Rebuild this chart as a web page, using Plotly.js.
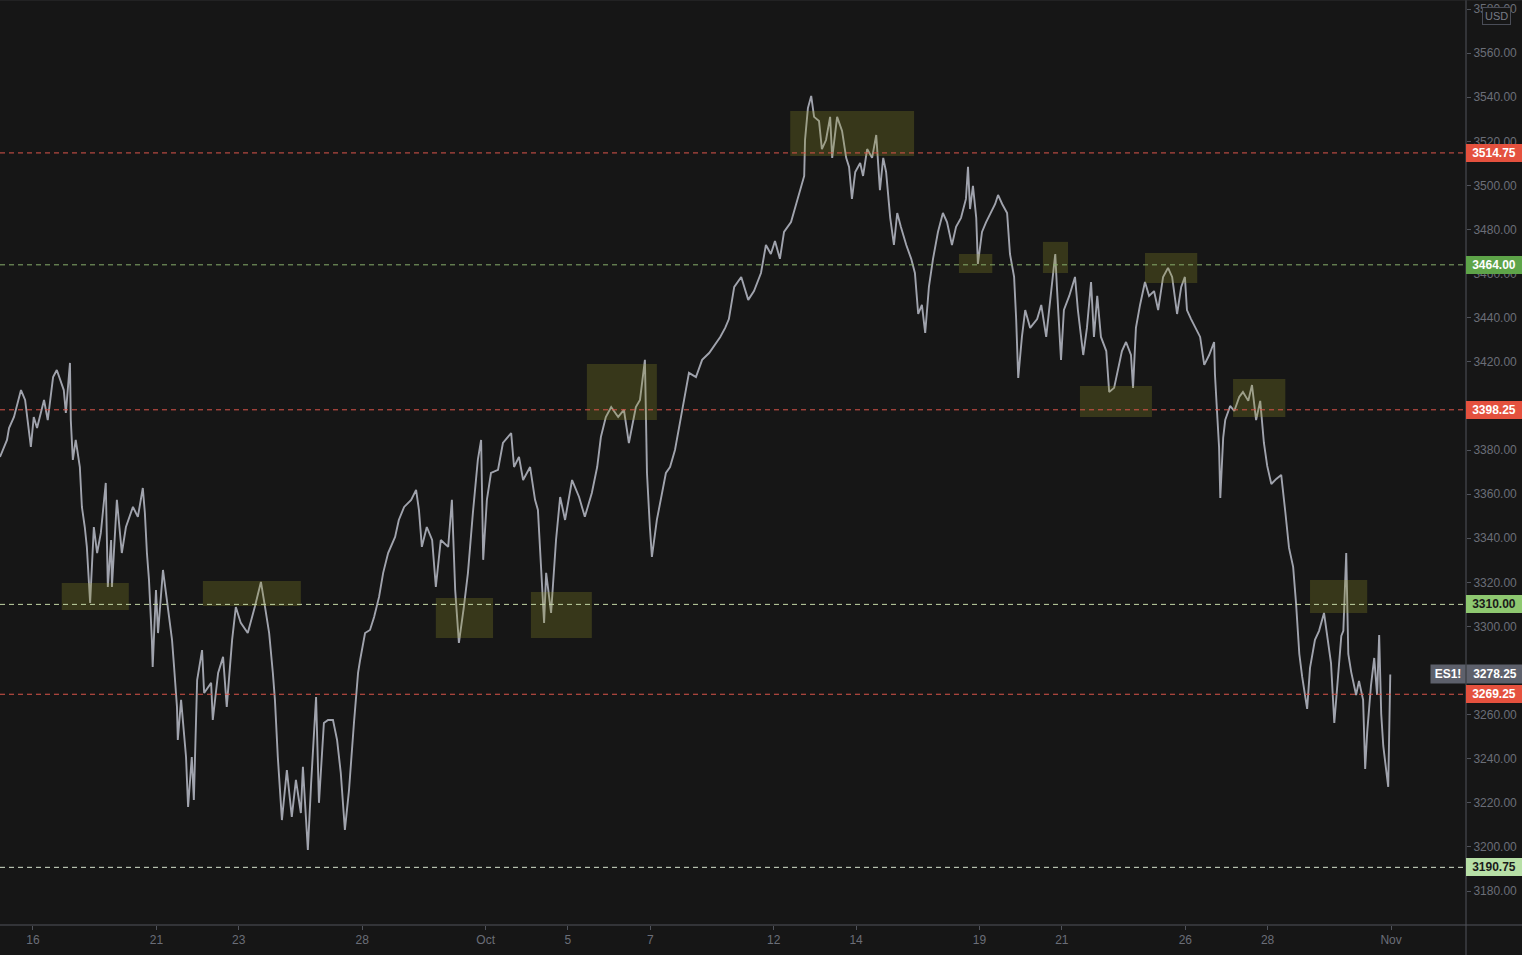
<!DOCTYPE html>
<html>
<head>
<meta charset="utf-8">
<script src="https://cdn.plot.ly/plotly-3.0.1.min.js"></script>
<style>
  html, body { margin: 0; padding: 0; background: #161616; }
  #chart { width: 1522px; height: 955px; }
</style>
</head>
<body>
<div id="chart"></div>
<script>
// ---- DATA ----
// x = trading-session index (0 = Sep 16), y = ES1! price
const tradingDay = [
-0.80,-0.63,-0.58,-0.46,-0.29,-0.19,-0.05,0.02,0.10,0.27,
0.36,0.49,0.58,0.75,0.80,0.90,0.92,0.97,1.04,1.14,
1.19,1.26,1.31,1.39,1.48,1.56,1.65,1.77,1.82,1.90,
1.92,2.04,2.16,2.26,2.43,2.55,2.67,2.72,2.77,2.82,
2.89,2.91,2.99,3.04,3.16,3.28,3.38,3.43,3.50,3.52,
3.60,3.72,3.77,3.86,3.91,3.99,4.11,4.16,4.33,4.37,
4.50,4.62,4.71,4.84,4.93,5.05,5.22,5.39,5.54,5.64,
5.74,5.83,5.88,5.95,6.00,6.05,6.17,6.29,6.39,6.51,
6.56,6.68,6.76,6.88,6.95,7.07,7.17,7.29,7.39,7.48,
7.58,7.68,7.80,7.90,7.95,8.07,8.19,8.29,8.41,8.51,
8.63,8.80,8.89,9.02,9.19,9.31,9.38,9.45,9.57,9.70,
9.79,9.91,10.09,10.18,10.26,10.35,10.47,10.57,10.69,10.81,
10.89,10.94,11.03,11.13,11.30,11.42,11.62,11.69,11.81,11.91,
12.08,12.20,12.27,12.37,12.42,12.47,12.59,12.71,12.81,12.93,
13.10,13.27,13.41,13.58,13.71,13.80,13.92,14.05,14.22,14.36,
14.48,14.65,14.75,14.87,14.92,14.99,15.04,15.16,15.26,15.38,
15.48,15.60,15.72,15.82,15.94,16.11,16.26,16.43,16.60,
16.70,16.82,16.91,17.04,17.21,17.38,17.52,17.69,17.81,17.93,
18.03,18.15,18.25,18.42,18.54,18.64,18.74,18.76,18.83,18.91,
18.98,19.10,19.17,19.27,19.37,19.42,19.54,19.66,19.76,19.83,
19.90,19.98,20.10,20.17,20.27,20.39,20.49,20.58,20.66,20.73,
20.83,20.92,21.00,21.09,21.22,21.34,21.43,21.51,21.60,21.68,
21.77,21.87,21.99,22.11,22.21,22.33,22.43,22.55,22.67,22.72,
22.77,22.84,22.92,22.96,23.06,23.16,23.28,23.38,23.45,23.55,
23.67,23.74,23.84,23.89,23.94,24.03,24.11,24.23,24.40,24.50,
24.62,24.74,24.84,24.88,24.98,25.05,25.18,25.32,25.39,25.52,
25.61,25.71,25.78,25.86,25.95,26.08,26.15,26.27,26.34,26.46,
26.56,26.68,26.73,26.80,26.90,27.02,27.12,27.24,27.34,27.46,
27.58,27.68,27.80,27.90,27.99,28.04,28.14,28.24,28.36,28.46,
28.58,28.70,28.72,28.77,28.82,28.85,28.92,28.97,29.09,29.19,
29.31,29.40,29.53,29.62,29.72,29.82,29.91,29.99,30.09,30.21,
30.33,30.43,30.52,30.62,30.69,30.77,30.84,30.96,31.03,31.15,
31.25,31.37,31.45,31.54,31.62,31.71,31.79,31.84,31.91,31.96,
32.03,32.15,32.22,32.32,32.37,32.42,32.51,32.59,32.66,32.71,
32.76,32.81,32.88,32.93,32.98
];
const esPrice = [
3376.9,3384.6,3390.0,3395.0,3407.2,3402.7,3381.4,3395.0,3390.0,3402.7,
3393.6,3413.1,3416.3,3407.2,3396.8,3419.5,3393.6,3375.5,3384.6,3372.3,
3354.2,3345.1,3336.1,3310.7,3345.1,3333.3,3342.4,3365.1,3317.9,3339.2,
3317.9,3357.4,3333.3,3345.1,3354.2,3349.7,3362.8,3351.5,3333.3,3321.1,
3293.9,3281.6,3316.5,3297.0,3325.6,3308.8,3293.9,3281.6,3263.5,3248.5,
3266.7,3240.8,3218.1,3240.8,3221.3,3275.7,3289.3,3269.8,3274.4,3257.6,
3278.9,3286.2,3263.5,3293.9,3308.8,3301.6,3297.0,3308.8,3320.2,3308.8,
3297.0,3278.9,3266.7,3240.8,3225.8,3212.2,3234.9,3213.6,3230.4,3215.4,
3236.3,3198.6,3229.0,3268.0,3220.0,3256.2,3257.6,3257.6,3248.5,3233.6,
3207.7,3225.8,3256.2,3278.9,3284.8,3297.0,3298.4,3304.3,3313.4,3324.3,
3333.3,3340.6,3348.3,3354.2,3357.4,3361.9,3352.8,3336.1,3345.1,3339.2,
3317.9,3339.2,3336.1,3357.4,3316.5,3292.5,3308.8,3324.3,3351.5,3375.5,
3384.6,3330.2,3357.4,3369.6,3371.0,3383.2,3387.7,3372.3,3376.9,3366.4,
3372.3,3357.4,3352.8,3321.1,3301.6,3324.3,3306.1,3339.2,3358.7,3348.3,
3366.4,3358.7,3349.7,3360.5,3372.3,3385.9,3395.0,3399.5,3395.0,3398.2,
3383.2,3399.5,3402.7,3420.9,3369.6,3345.1,3331.5,3348.3,3357.4,3369.6,
3372.3,3380.0,3392.3,3402.7,3415.0,3413.1,3420.9,3424.0,3428.6,
3431.3,3435.4,3439.4,3454.0,3458.5,3448.1,3452.1,3460.3,3473.0,3468.9,
3474.8,3466.7,3478.9,3483.4,3491.6,3497.9,3504.3,3520.6,3535.1,3540.6,
3531.1,3529.2,3516.5,3520.6,3531.1,3512.5,3531.1,3524.7,3512.5,3508.4,
3493.9,3506.1,3510.2,3504.3,3516.5,3512.5,3522.9,3497.9,3512.5,3506.1,
3485.3,3473.0,3487.5,3481.2,3473.0,3466.7,3460.3,3441.7,3445.8,3433.1,
3454.0,3466.7,3478.9,3487.5,3483.4,3473.0,3481.2,3485.3,3493.9,3508.4,
3489.3,3499.8,3485.3,3464.4,3478.9,3483.4,3487.5,3491.6,3495.7,3491.6,
3487.5,3468.9,3458.5,3439.4,3412.7,3431.3,3443.5,3435.4,3439.4,3445.8,
3431.3,3452.1,3468.9,3454.0,3420.9,3443.5,3449.9,3458.5,3443.5,3423.1,
3435.4,3456.2,3431.3,3449.9,3431.3,3424.9,3406.3,3408.2,3414.5,3424.9,
3429.0,3423.1,3408.2,3435.4,3445.8,3456.2,3449.9,3452.1,3443.5,3458.5,
3462.6,3458.5,3441.7,3454.0,3458.5,3443.5,3439.4,3435.4,3431.3,3418.6,
3423.1,3429.0,3414.5,3397.7,3381.4,3358.3,3385.5,3393.6,3400.0,3397.7,
3404.1,3406.3,3402.3,3409.5,3393.6,3402.3,3383.2,3372.8,3364.6,3366.9,
3368.7,3351.9,3335.6,3327.0,3310.7,3287.5,3277.1,3262.6,3281.2,3293.9,
3298.0,3306.1,3295.7,3283.4,3256.2,3277.1,3295.7,3298.0,3333.3,3287.5,
3279.4,3268.9,3275.3,3266.7,3235.4,3252.2,3273.0,3285.7,3268.9,3296.1,
3260.3,3245.8,3233.6,3227.2,3278.25
];

// x-axis tick labels (session index -> label)
const dayTickVals = [0, 3, 5, 8, 11, 13, 15, 18, 20, 23, 25, 28, 30, 33];
const dayTickText = ['16', '21', '23', '28', 'Oct', '5', '7', '12', '14', '19', '21', '26', '28', 'Nov'];

// price axis ticks (3280 and 3400 sit fully under the price tags in the original)
const priceTicks = [3180,3200,3220,3240,3260,3300,3320,3340,3360,3380,3420,3440,3460,3480,3500,3520,3540,3560,3580];

// horizontal levels
const levelPrices = [3514.75, 3464.00, 3398.25, 3310.00, 3269.25, 3190.75];
const levelKinds  = ['red', 'green', 'red', 'lightgreen', 'red', 'palegreen'];

// zones (session index range, price range)
const zoneX0 = [0.70, 4.13, 9.79, 12.10, 13.46, 18.40, 22.50, 24.54, 27.02, 25.44, 29.16, 31.03];
const zoneX1 = [2.33, 6.51, 11.18, 13.58, 15.16, 21.41, 23.31, 25.15, 28.29, 27.19, 30.43, 32.42];
const zoneY0 = [3307.5, 3309.3, 3294.8, 3294.8, 3393.6, 3513.4, 3460.3, 3460.3, 3455.8, 3395.0, 3395.0, 3306.1];
const zoneY1 = [3319.7, 3320.6, 3312.9, 3315.6, 3419.0, 3533.8, 3468.9, 3474.4, 3469.4, 3409.1, 3412.2, 3321.1];

const lastPrice = 3278.25;
const symbolName = 'ES1!';

// ---- STYLE ----
const BG = '#161616';
const kindStyle = {
  red:        { line: '#d9544a', bg: '#e4513e', text: '#ffffff' },
  green:      { line: '#86ad6b', bg: '#5ea449', text: '#ffffff' },
  lightgreen: { line: '#c3d6a6', bg: '#8ec870', text: '#1a1a1a' },
  palegreen:  { line: '#d6e2cc', bg: '#b7dfa6', text: '#1a1a1a' }
};
const FONT = 'Liberation Sans, Arial, sans-serif';

const shapes = [];
for (let i = 0; i < zoneX0.length; i++) {
  shapes.push({
    type: 'rect', xref: 'x', yref: 'y', layer: 'above',
    x0: zoneX0[i], x1: zoneX1[i], y0: zoneY0[i], y1: zoneY1[i],
    fillcolor: 'rgba(150,150,40,0.26)', line: { width: 0 }
  });
}
levelPrices.forEach((p, i) => {
  shapes.push({
    type: 'line', xref: 'paper', yref: 'y', layer: 'above',
    x0: 0, x1: 1, y0: p, y1: p,
    line: { color: kindStyle[levelKinds[i]].line, width: 1, dash: '5px,4px' }
  });
});
shapes.push({ type: 'line', xref: 'paper', yref: 'paper', x0: 1, x1: 1, y0: -30/925, y1: 1,
  line: { color: '#50535b', width: 1 }, layer: 'above' });
shapes.push({ type: 'line', xref: 'paper', yref: 'paper', x0: 0, x1: 1522/1466, y0: 0, y1: 0,
  line: { color: '#50535b', width: 1 }, layer: 'above' });
shapes.push({ type: 'line', xref: 'paper', yref: 'paper', x0: 0, x1: 1522/1466, y0: 1, y1: 1,
  line: { color: '#2e2e30', width: 1 }, layer: 'above' });

const annotations = [];
levelPrices.forEach((p, i) => {
  const s = kindStyle[levelKinds[i]];
  annotations.push({
    xref: 'paper', yref: 'y', x: 1, y: p, xanchor: 'left', yanchor: 'middle',
    text: p.toFixed(2), showarrow: false, width: 52, align: 'center',
    bgcolor: s.bg, borderpad: 2, borderwidth: 0,
    font: { family: FONT, size: 12, color: s.text, weight: 'bold' }
  });
});
annotations.push({
  xref: 'paper', yref: 'y', x: 1, y: lastPrice, xanchor: 'left', yanchor: 'middle',
  text: lastPrice.toFixed(2), showarrow: false, width: 52, align: 'center',
  bgcolor: '#5d606b', borderpad: 2,
  font: { family: FONT, size: 12, color: '#ffffff', weight: 'bold' }
});
annotations.push({
  xref: 'paper', yref: 'y', x: 1, y: lastPrice, xanchor: 'right', yanchor: 'middle',
  text: symbolName, showarrow: false, width: 30, align: 'center',
  bgcolor: '#5d606b', borderpad: 2,
  font: { family: FONT, size: 12, color: '#ffffff', weight: 'bold' }
});
annotations.push({
  xref: 'paper', yref: 'paper', x: 1496/1466, y: 1 - 16/925, xanchor: 'center', yanchor: 'middle',
  text: 'USD', showarrow: false, bgcolor: BG, bordercolor: '#4a4d57', borderwidth: 1, borderpad: 2,
  font: { family: FONT, size: 11, color: '#787b86' }
});

const trace = {
  type: 'scatter', mode: 'lines',
  x: tradingDay, y: esPrice,
  line: { color: '#a0a3ad', width: 1.9 },
  hoverinfo: 'skip'
};

const layout = {
  width: 1522, height: 955,
  paper_bgcolor: BG, plot_bgcolor: BG,
  margin: { l: 0, r: 56, t: 0, b: 30, pad: 0 },
  showlegend: false,
  xaxis: {
    range: [-0.80, 34.82], tickmode: 'array', tickvals: dayTickVals, ticktext: dayTickText,
    showgrid: false, zeroline: false, showline: false,
    ticks: 'outside', ticklen: 4, tickcolor: '#50535b',
    tickfont: { family: FONT, size: 12, color: '#6b6e78' }, fixedrange: true
  },
  yaxis: {
    side: 'right', range: [3164.6, 3584.1], tickmode: 'array', tickvals: priceTicks,
    ticktext: priceTicks.map(v => v.toFixed(2)),
    showgrid: false, zeroline: false, showline: false,
    ticks: 'outside', ticklen: 4, tickcolor: '#50535b',
    tickfont: { family: FONT, size: 12, color: '#6b6e78' }, fixedrange: true
  },
  shapes: shapes,
  annotations: annotations
};

Plotly.newPlot('chart', [trace], layout, { displayModeBar: false, staticPlot: true });
</script>
</body>
</html>
